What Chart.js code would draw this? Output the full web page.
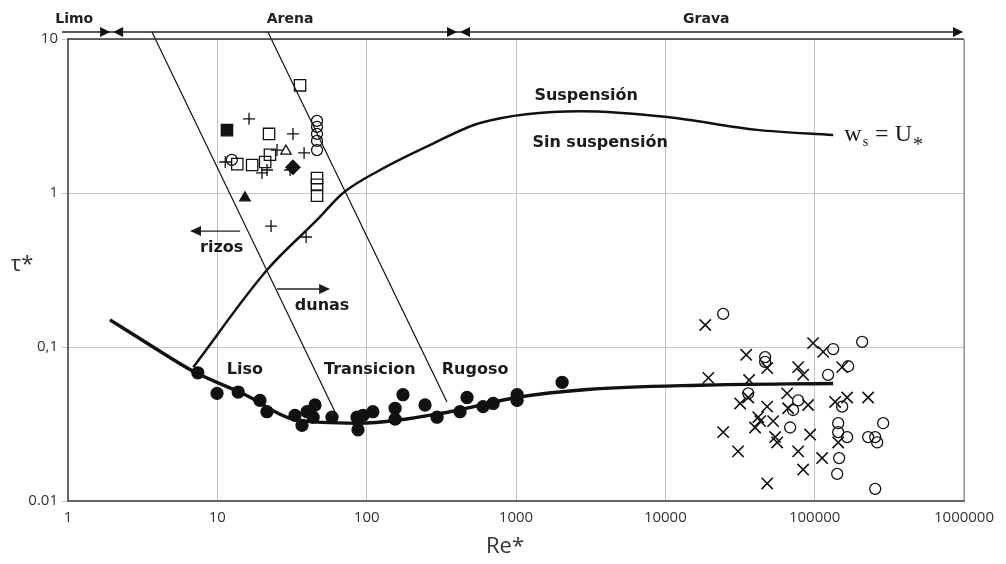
<!DOCTYPE html>
<html>
<head>
<meta charset="utf-8">
<title>Diagrama de Shields</title>
<script src="https://cdn.jsdelivr.net/npm/chart.js@4.4.1/dist/chart.umd.min.js"></script>
<style>
  html, body { margin: 0; padding: 0; background: #fff; }
  #wrap { width: 1006px; height: 564px; }
</style>
</head>
<body>
<div id="wrap"><canvas id="shieldsChart"></canvas></div>
<script>
// Axis ticks
const xTickValues = [1, 10, 100, 1000, 10000, 100000, 1000000];
const xTickLabels = ['1', '10', '100', '1000', '10000', '100000', '1000000'];
const yTickValues = [0.01, 0.1, 1, 10];
const yTickLabels = ['0.01', '0,1', '1', '10'];

// Threshold of motion (Re*, tau*)
const shieldsCurve = [[1.91, 0.150], [3.54, 0.103], [7.0, 0.069], [15, 0.0495], [34, 0.0336], [86, 0.032],
  [362, 0.038], [1000, 0.047], [3000, 0.053], [17000, 0.0565], [133000, 0.058]];

// ws = U* boundary between bedload and suspension
const suspensionCurve = [[6.9, 0.074], [21.5, 0.316], [46.5, 0.668], [69.5, 1.0], [123, 1.41], [266, 2.05],
  [575, 2.85], [2690, 3.40], [10300, 3.12], [41200, 2.57], [133000, 2.38]];

// Regime limits (ripples/dunes, smooth/transition/rough)
const ripplesLimit = [[3.65, 11.1], [61.4, 0.0379]];
const roughLimit = [[21.8, 11.1], [345, 0.044]];

// Sand experiments
const openSquares = [[35.8, 5.0], [22.2, 2.42], [13.6, 1.54], [17.1, 1.52], [20.9, 1.59], [22.5, 1.77],
  [46.5, 1.25], [46.5, 1.13], [46.5, 0.96]];
const filledSquares = [[11.6, 2.56]];
const plusMarks = [[16.3, 3.03], [32.1, 2.42], [25.1, 1.90], [38.1, 1.82], [11.3, 1.59], [19.9, 1.35],
  [21.5, 1.41], [30.7, 1.41], [22.9, 0.61], [39.3, 0.518]];
const openTriangles = [[28.8, 1.87]];
const filledTriangles = [[15.3, 0.93]];
const filledDiamonds = [[32.1, 1.47]];
const sandCircles = [[46.5, 2.94], [46.5, 2.69], [46.5, 2.42], [46.5, 2.18], [46.5, 1.90], [12.5, 1.64]];

// Incipient motion measurements
const filledCircles = [[7.4, 0.068], [9.95, 0.050], [13.8, 0.051], [19.3, 0.045], [21.5, 0.038], [33.1, 0.036],
  [36.9, 0.031], [39.9, 0.038], [43.8, 0.035], [45.1, 0.042], [58.6, 0.035], [86.2, 0.035], [87.5, 0.029],
  [94.6, 0.036], [110, 0.038], [155, 0.040], [155, 0.034], [175, 0.049], [246, 0.042], [296, 0.035],
  [422, 0.038], [470, 0.047], [602, 0.041], [703, 0.043], [1017, 0.049], [1017, 0.045], [2036, 0.059]];

// Gravel field data
const gravelCrosses = [[18500, 0.139], [34800, 0.089], [48100, 0.073], [19400, 0.063], [36400, 0.061],
  [31700, 0.043], [35900, 0.047], [48100, 0.041], [41900, 0.035], [39900, 0.030], [52700, 0.033],
  [54400, 0.026], [56100, 0.024], [65400, 0.050], [66400, 0.040], [77500, 0.074], [83700, 0.066],
  [97600, 0.106], [114000, 0.093], [90400, 0.042], [93300, 0.027], [77500, 0.021], [83700, 0.016],
  [112200, 0.019], [137100, 0.044], [165000, 0.047], [152800, 0.074], [228000, 0.047], [143700, 0.024],
  [24400, 0.028], [30700, 0.021], [48100, 0.013], [43200, 0.033]];
const gravelCircles = [[24400, 0.164], [46600, 0.086], [46600, 0.080], [133000, 0.097], [208000, 0.108],
  [167600, 0.075], [123000, 0.066], [35900, 0.050], [77500, 0.045], [71700, 0.039], [152800, 0.041],
  [68500, 0.030], [143700, 0.032], [143700, 0.028], [165000, 0.026], [228000, 0.026], [262200, 0.024],
  [254300, 0.026], [287600, 0.032], [145900, 0.019], [141500, 0.015], [254300, 0.012]];

// Sediment classes along the top
const sizeClasses = ['Limo', 'Arena', 'Grava'];
const sizeClassLabelAt = [1.1, 30.7, 18800];
const sizeClassBounds = [1.96, 412];

// Text inside the plot: [text, Re*, tau*]
const regimeLabels = [['Liso', 15.3, 0.071], ['Transicion', 105, 0.071], ['Rugoso', 532, 0.071]];
const bedformLabels = [['rizos', 10.7, 0.44], ['dunas', 50.3, 0.185]];
const suspensionLabels = [['Suspensión', 2950, 4.30], ['Sin suspensión', 3660, 2.11]];
const bedformArrows = [[[14.2, 0.566], [6.56, 0.566]], [[25.1, 0.238], [56.9, 0.238]]];
const ruleLabelAt = [158000, 2.45];

const toXY = arr => arr.map(p => ({x: p[0], y: p[1]}));

function markers(data, style, radius, filled, width) {
  return {
    data: toXY(data),
    pointStyle: style,
    pointRadius: radius,
    pointBorderWidth: width || 1.3,
    pointBorderColor: '#111',
    pointBackgroundColor: filled ? '#111' : 'rgba(0,0,0,0)',
    showLine: false
  };
}

function curve(data, width, clip) {
  return {
    data: toXY(data),
    showLine: true,
    borderColor: '#111',
    borderWidth: width,
    pointRadius: 0,
    cubicInterpolationMode: 'monotone',
    clip: clip
  };
}

function arrowHead(ctx, tipX, tipY, dir, len, half) {
  ctx.beginPath();
  ctx.moveTo(tipX, tipY);
  ctx.lineTo(tipX - dir * len, tipY - half);
  ctx.lineTo(tipX - dir * len, tipY + half);
  ctx.closePath();
  ctx.fill();
}

const overlayPlugin = {
  id: 'overlay',
  afterDatasetsDraw(chart) {
    const {ctx, chartArea: area, scales: {x, y}} = chart;
    ctx.save();

    // top and right frame
    ctx.strokeStyle = '#333';
    ctx.lineWidth = 1.5;
    ctx.beginPath();
    ctx.moveTo(area.left, area.top);
    ctx.lineTo(area.right, area.top);
    ctx.stroke();
    ctx.strokeStyle = '#777';
    ctx.lineWidth = 1;
    ctx.beginPath();
    ctx.moveTo(area.right, area.top);
    ctx.lineTo(area.right, area.bottom);
    ctx.stroke();

    // sediment class arrows
    const arrowY = area.top - 7;
    ctx.strokeStyle = '#222';
    ctx.fillStyle = '#111';
    ctx.lineWidth = 1.5;
    ctx.beginPath();
    ctx.moveTo(area.left - 6, arrowY);
    ctx.lineTo(area.right - 2, arrowY);
    ctx.stroke();
    sizeClassBounds.forEach(b => {
      const bx = x.getPixelForValue(b);
      arrowHead(ctx, bx - 1.5, arrowY, 1, 10, 5);
      arrowHead(ctx, bx + 1.5, arrowY, -1, 10, 5);
    });
    arrowHead(ctx, area.right - 1, arrowY, 1, 10, 5);

    ctx.font = 'bold 14px "DejaVu Sans"';
    ctx.textAlign = 'center';
    ctx.textBaseline = 'middle';
    ctx.fillStyle = '#222';
    sizeClasses.forEach((name, i) => {
      ctx.fillText(name, x.getPixelForValue(sizeClassLabelAt[i]), 19);
    });

    // labels inside the plot
    ctx.font = 'bold 16px "DejaVu Sans"';
    ctx.fillStyle = '#1a1a1a';
    regimeLabels.concat(bedformLabels, suspensionLabels).forEach(l => {
      ctx.fillText(l[0], x.getPixelForValue(l[1]), y.getPixelForValue(l[2]));
    });

    // ripple / dune arrows
    ctx.lineWidth = 1.3;
    ctx.strokeStyle = '#222';
    bedformArrows.forEach(a => {
      const x0 = x.getPixelForValue(a[0][0]), y0 = y.getPixelForValue(a[0][1]);
      const x1 = x.getPixelForValue(a[1][0]);
      const dir = x1 > x0 ? 1 : -1;
      ctx.beginPath();
      ctx.moveTo(x0, y0);
      ctx.lineTo(x1 - dir * 8, y0);
      ctx.stroke();
      arrowHead(ctx, x1, y0, dir, 11, 5);
    });

    // ws = U*
    let tx = x.getPixelForValue(ruleLabelAt[0]);
    const ty = y.getPixelForValue(ruleLabelAt[1]);
    ctx.textAlign = 'left';
    ctx.textBaseline = 'alphabetic';
    const big = '24px "Liberation Serif"', small = '14px "Liberation Serif"';
    const parts = [['w', big, 0], ['s', small, 5], [' = U', big, 0], ['*', '20px "Liberation Serif"', 10]];
    parts.forEach(p => {
      ctx.font = p[1];
      ctx.fillText(p[0], tx, ty + 8 + p[2]);
      tx += ctx.measureText(p[0]).width + 1;
    });

    // axis titles
    ctx.fillStyle = '#333';
    ctx.textAlign = 'center';
    ctx.textBaseline = 'middle';
    ctx.font = '22px "Open Sans"';
    ctx.fillText('τ*', 22, 265);
    ctx.fillText('Re*', 505, 547);

    ctx.restore();
  }
};

const axisFont = {family: '"Open Sans"', size: 15};

new Chart(document.getElementById('shieldsChart').getContext('2d'), {
  type: 'scatter',
  data: {
    datasets: [
      curve(ripplesLimit, 1.2, false),
      curve(roughLimit, 1.2, false),
      curve(suspensionCurve, 2.5, 0),
      curve(shieldsCurve, 3.4, 0),
      markers(filledCircles, 'circle', 6, true),
      markers(openSquares, 'rect', 8, false),
      markers(filledSquares, 'rect', 8, true),
      markers(plusMarks, 'cross', 6, false),
      markers(openTriangles, 'triangle', 6, false),
      markers(filledTriangles, 'triangle', 6, true),
      markers(filledDiamonds, 'rectRot', 7, true),
      markers(sandCircles, 'circle', 5.5, false),
      markers(gravelCrosses, 'crossRot', 8, false, 1.6),
      markers(gravelCircles, 'circle', 5.5, false, 1.3)
    ]
  },
  options: {
    responsive: true,
    maintainAspectRatio: false,
    animation: false,
    events: [],
    layout: {padding: {top: 39, right: 42, left: 0, bottom: 0}},
    plugins: {legend: {display: false}, tooltip: {enabled: false}},
    scales: {
      x: {
        type: 'logarithmic',
        min: 1,
        max: 1000000,
        afterBuildTicks: scale => { scale.ticks = xTickValues.map(v => ({value: v})); },
        afterFit: scale => { scale.height = 63; },
        ticks: {
          autoSkip: false,
          maxRotation: 0,
          padding: 8,
          color: '#333',
          font: axisFont,
          callback: (v, i) => xTickLabels[i]
        },
        grid: {color: '#c4c4c4', lineWidth: 1, drawTicks: false},
        border: {color: '#666', width: 2}
      },
      y: {
        type: 'logarithmic',
        min: 0.01,
        max: 10,
        afterBuildTicks: scale => { scale.ticks = yTickValues.map(v => ({value: v})); },
        afterFit: scale => { scale.width = 68; },
        ticks: {
          autoSkip: false,
          padding: 4,
          color: '#333',
          font: axisFont,
          callback: (v, i) => yTickLabels[i]
        },
        grid: {color: '#c4c4c4', lineWidth: 1, tickLength: 6},
        border: {color: '#666', width: 2}
      }
    }
  },
  plugins: [overlayPlugin]
});
</script>
</body>
</html>
